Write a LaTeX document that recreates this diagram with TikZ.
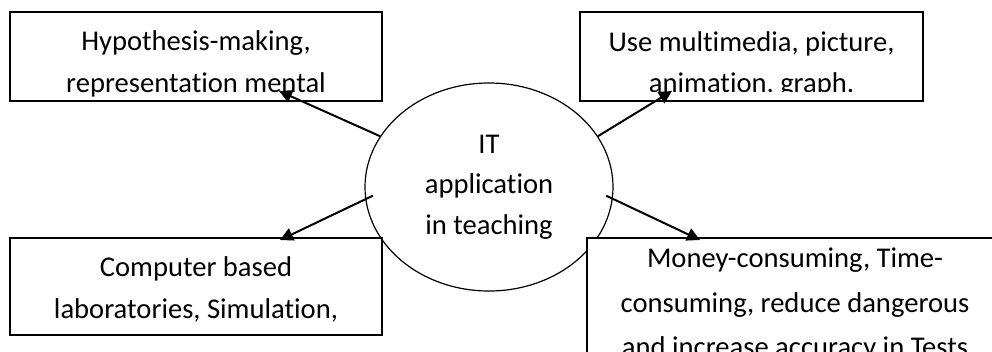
\documentclass[tikz,border=0pt]{standalone}
\usepackage{fontspec}
\setmainfont{Carlito}[Ligatures={NoCommon}]
\usetikzlibrary{shapes.geometric,arrows.meta}
\tikzset{
  txt/.style={draw=none, fill=none, minimum width=0pt, minimum height=0pt, align=center, inner sep=0pt},
  box/.style={draw, rectangle, line width=1.6bp, fill=white, inner sep=0pt},
  % args: top offset, line spacing, bottom clip inset, text
  cliptext/.style n args={4}{path picture={
    \clip ([yshift=#3]path picture bounding box.south west) rectangle (path picture bounding box.north east);
    \node[txt, font=\fontsize{28.7}{#2}\selectfont, anchor=north] at ([yshift=-#1]path picture bounding box.north) {\rule{0pt}{24bp}#4};}},
  hub/.style={draw, ellipse, line width=1.2bp, inner sep=0pt, minimum width=248bp, minimum height=208bp, align=center, font=\fontsize{28.7}{40.5}\selectfont},
  arr/.style={line width=2bp, -{Triangle[length=13bp, width=13bp]}},
}
\begin{document}
\begin{tikzpicture}[x=1bp, y=-1bp]
\clip (0,0) rectangle (992,351);
\fill[white] (0,0) rectangle (992,351);
% central ellipse
\node[hub] (it) at (489,187) {IT\\application\\in teaching};
% boxes
\node[box, minimum width=372bp, minimum height=89bp,
  cliptext={14bp}{42bp}{4bp}{Hypothesis-making,\\representation mental}] (hyp) at (196,56.5) {};
\node[box, minimum width=343bp, minimum height=89bp,
  cliptext={14.5bp}{41bp}{10bp}{Use multimedia, picture,\\animation, graph,}] (mm) at (751.5,56.5) {};
\node[box, minimum width=372bp, minimum height=97bp,
  cliptext={13.7bp}{42.3bp}{0bp}{Computer based\\laboratories, Simulation,}] (lab) at (196,286.5) {};
\node[box, minimum width=416bp, minimum height=150bp,
  cliptext={5bp}{44.5bp}{0bp}{Money-consuming, Time-\\consuming, reduce dangerous\\and increase accuracy in Tests}] (money) at (795,313) {};
% arrow ends
\coordinate (tHyp) at (279,91);
\coordinate (tMm) at (672,91);
\coordinate (tLab) at (280,240);
\coordinate (tMoney) at (700,240);
\draw[arr] (it.155) -- (tHyp);
\draw[arr] (it.25) -- (tMm);
\draw[arr] ([xshift=8bp]it.184) -- (tLab);
\draw[arr] ([xshift=-7bp]it.356) -- (tMoney);
\end{tikzpicture}
\end{document}
